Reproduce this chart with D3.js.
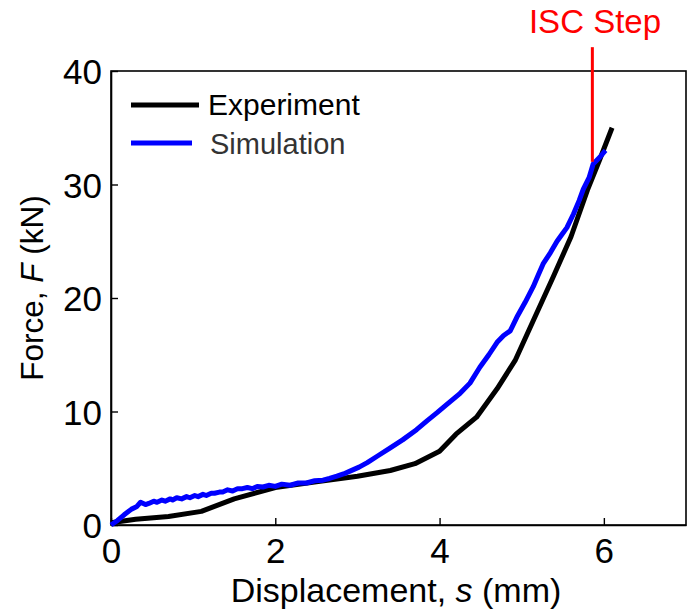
<!DOCTYPE html>
<html>
<head>
<meta charset="utf-8">
<script src="https://cdn.jsdelivr.net/npm/d3@7"></script>
<style>
  body{margin:0;background:#fff;}
  svg{display:block;font-family:"Liberation Sans",Arial,sans-serif;}
</style>
</head>
<body>
<div id="chart"></div>
<script>
// valores
const expS = [0, 0.3, 0.7, 1.1, 1.5, 2.0, 2.5, 3.0, 3.4, 3.7, 4.0, 4.2, 4.45, 4.7, 4.92, 5.14, 5.38, 5.6, 5.8, 5.95, 6.1];
const expF = [0.2, 0.5, 0.75, 1.2, 2.3, 3.3, 3.8, 4.3, 4.8, 5.4, 6.5, 8.0, 9.5, 12.0, 14.5, 18.0, 21.8, 25.4, 29.5, 32.2, 35.0];

const simS = [0, 0.08, 0.16, 0.25, 0.31, 0.36, 0.42, 0.46, 0.52, 0.56, 0.62, 0.66, 0.72, 0.75, 0.8, 0.86, 0.92, 0.96, 1.02, 1.06, 1.12, 1.16, 1.22, 1.26, 1.32, 1.36, 1.42, 1.48, 1.54, 1.6, 1.66, 1.72, 1.78, 1.85, 1.92, 2.0, 2.08, 2.18, 2.28, 2.38, 2.48, 2.58, 2.66, 2.75, 2.83, 2.91, 3.02, 3.12, 3.25, 3.4, 3.55, 3.72, 3.85, 3.97, 4.1, 4.25, 4.37, 4.49, 4.6, 4.7, 4.78, 4.86, 4.94, 5.04, 5.14, 5.2, 5.26, 5.35, 5.43, 5.5, 5.55, 5.63, 5.7, 5.75, 5.82, 5.87, 5.95, 6.02];
const simF = [0, 0.4, 0.9, 1.4, 1.6, 2.0, 1.8, 1.9, 2.1, 2.0, 2.2, 2.1, 2.3, 2.2, 2.4, 2.3, 2.5, 2.4, 2.6, 2.5, 2.7, 2.6, 2.8, 2.8, 2.9, 2.9, 3.1, 3.0, 3.2, 3.2, 3.3, 3.2, 3.4, 3.35, 3.5, 3.4, 3.6, 3.5, 3.7, 3.7, 3.9, 3.95, 4.1, 4.3, 4.5, 4.75, 5.1, 5.5, 6.1, 6.8, 7.5, 8.4, 9.2, 9.9, 10.7, 11.6, 12.5, 13.9, 15.0, 16.1, 16.7, 17.1, 18.3, 19.6, 21.0, 22.0, 23.0, 24.0, 25.0, 25.7, 26.2, 27.4, 28.6, 29.6, 30.6, 31.8, 32.4, 33.0];

const xTicks = [0, 2, 4, 6];
const yTicks = [0, 10, 20, 30, 40];
const iscStep = 5.86;          // posição do passo ISC (mm)
const iscF = [32, 42.1];       // trecho vertical da linha vermelha (kN)

const W = 688, H = 612;
const m = {l:111, r:2, t:71, b:87};

const svg = d3.select('#chart').append('svg')
  .attr('width', W).attr('height', H);

const x = d3.scaleLinear().domain([0, 7]).range([m.l, W - m.r]);
const y = d3.scaleLinear().domain([0, 40]).range([H - m.b, m.t]);

// caixa
svg.append('rect')
  .attr('x', m.l).attr('y', m.t)
  .attr('width', W - m.r - m.l).attr('height', H - m.b - m.t)
  .attr('fill', 'none').attr('stroke', '#000').attr('stroke-width', 1.6);

// eixos com ticks pra dentro
const ax = svg.append('g').attr('transform', `translate(0,${H - m.b})`)
  .call(d3.axisBottom(x).tickValues(xTicks).tickFormat(d3.format('d')).tickSizeInner(-7).tickSizeOuter(0).tickPadding(13));
const ay = svg.append('g').attr('transform', `translate(${m.l},0)`)
  .call(d3.axisLeft(y).tickValues(yTicks).tickFormat(d3.format('d')).tickSizeInner(-7).tickSizeOuter(0).tickPadding(9));
[ax, ay].forEach(a => {
  a.select('.domain').attr('stroke-width', 1.6);
  a.selectAll('.tick line').attr('stroke-width', 1.4);
  a.selectAll('.tick text').attr('font-size', 35).attr('fill', '#000')
    .attr('font-family', '"Liberation Sans",Arial,sans-serif');
});
ax.selectAll('.tick text').attr('dy', '0.71em');
ay.selectAll('.tick text').attr('dy', '0.36em');

// títulos
const xt = svg.append('text')
  .attr('x', 396).attr('y', 602)
  .attr('text-anchor', 'middle').attr('font-size', 34);
xt.append('tspan').text('Displacement, ');
xt.append('tspan').attr('font-style', 'italic').text('s');
xt.append('tspan').text(' (mm)');

const yt = svg.append('text')
  .attr('transform', `translate(43,288) rotate(-90)`)
  .attr('text-anchor', 'middle').attr('font-size', 31.5);
yt.append('tspan').text('Force, ');
yt.append('tspan').attr('font-style', 'italic').text('F');
yt.append('tspan').text(' (kN)');

// curvas
const linha = d3.line().x(d => x(d[0])).y(d => y(d[1]));
const exp = expS.map((s, i) => [s, expF[i]]);
const sim = simS.map((s, i) => [s, simF[i]]);

svg.append('path').datum(exp)
  .attr('d', linha).attr('fill', 'none')
  .attr('stroke', '#000').attr('stroke-width', 5).attr('stroke-linejoin', 'round');
svg.append('path').datum(sim)
  .attr('d', linha).attr('fill', 'none')
  .attr('stroke', '#0000ff').attr('stroke-width', 5).attr('stroke-linejoin', 'round');

// linha do ISC
svg.append('line')
  .attr('x1', x(iscStep)).attr('x2', x(iscStep))
  .attr('y1', y(iscF[0])).attr('y2', y(iscF[1]))
  .attr('stroke', '#ff0000').attr('stroke-width', 3);
svg.append('text')
  .attr('x', 595).attr('y', 33)
  .attr('text-anchor', 'middle').attr('font-size', 33).attr('fill', '#ff0000')
  .text('ISC Step');

// legenda
svg.append('line').attr('x1', 131).attr('x2', 199).attr('y1', 105).attr('y2', 105)
  .attr('stroke', '#000').attr('stroke-width', 5);
svg.append('text').attr('x', 208).attr('y', 115).attr('font-size', 30).attr('fill', '#000')
  .text('Experiment');
svg.append('line').attr('x1', 131).attr('x2', 192).attr('y1', 143).attr('y2', 143)
  .attr('stroke', '#0000ff').attr('stroke-width', 5);
svg.append('text').attr('x', 210).attr('y', 154).attr('font-size', 29).attr('fill', '#333')
  .text('Simulation');
</script>
</body>
</html>
